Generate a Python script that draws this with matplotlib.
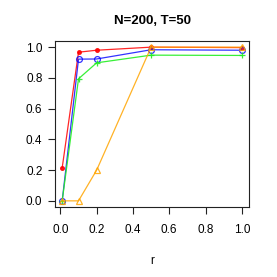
import matplotlib
matplotlib.use("Agg")
import matplotlib.pyplot as plt

plt.rcParams['font.family'] = ['Liberation Sans', 'DejaVu Sans']

# ── Data ────────────────────────────────────────────────────────────────────
r = [0.01, 0.1, 0.2, 0.5, 1.0]
red    = [0.215, 0.967, 0.980, 1.000, 0.997]
blue   = [0.000, 0.922, 0.923, 0.983, 0.980]
green  = [0.000, 0.794, 0.898, 0.948, 0.946]
orange = [0.000, 0.000, 0.200, 1.000, 1.000]

fig = plt.figure(figsize=(2.77, 2.77), dpi=100)
ax = fig.add_axes([55/277, 70/277, 194/277, 166/277])

ax.plot(r, red, "-o", color="red", lw=0.9, ms=2.6, alpha=0.85)
ax.plot(r, blue, "-o", color="blue", lw=0.9, ms=4.2, mfc="none", mew=0.9, alpha=0.8)
ax.plot(r, green, "-+", color="#22ee22", lw=0.9, ms=5, mew=0.9, alpha=0.9)
ax.plot(r, orange, "-^", color="orange", lw=0.9, ms=4.8, mfc="none", mew=0.9, alpha=0.85)

ax.set_xlim(-0.0296, 1.0396)
ax.set_ylim(-0.04, 1.04)
ax.set_xticks([0.0, 0.2, 0.4, 0.6, 0.8, 1.0])
ax.set_yticks([0.0, 0.2, 0.4, 0.6, 0.8, 1.0])
ax.set_xticklabels(["0.0", "0.2", "0.4", "0.6", "0.8", "1.0"])
ax.set_yticklabels(["0.0", "0.2", "0.4", "0.6", "0.8", "1.0"])
ax.tick_params(direction="out", length=5, width=0.8, labelsize=8.5, color="#222222")
ax.tick_params(axis="y", pad=4)
ax.tick_params(axis="x", pad=7)
for s in ax.spines.values():
    s.set_linewidth(0.8)
    s.set_color("#222222")

ax.set_xlabel("r", fontsize=8.5, labelpad=14)
fig.text(152/277, 1 - 21/277, "N=200, T=50", ha="center", va="center",
         fontsize=9.5, fontweight="bold")

fig.savefig("out.png", dpi=100)
